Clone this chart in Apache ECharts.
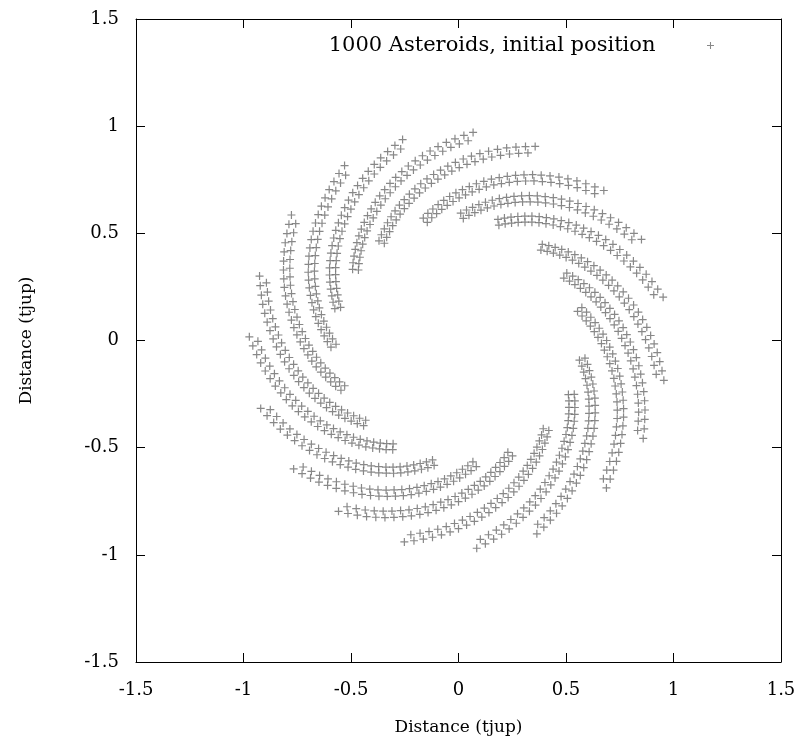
<!DOCTYPE html>
<html>
<head>
<meta charset="utf-8">
<title>Asteroids</title>
<script src="https://cdn.jsdelivr.net/npm/echarts@6/dist/echarts.min.js"></script>
<style>
  html, body { margin: 0; padding: 0; background: #fff; }
  #chart { width: 802px; height: 748px; }
</style>
</head>
<body>
<div id="chart"></div>
<script>
  // radius (tjup) of the crosses along one arm, outer end first (two interleaved strands)
  const armRadius = [0.973, 0.933, 0.957, 0.917, 0.941, 0.902, 0.926, 0.886, 0.910, 0.870,
    0.894, 0.854, 0.878, 0.838, 0.862, 0.823, 0.847, 0.807, 0.831, 0.791, 0.815, 0.775, 0.799,
    0.759, 0.783, 0.744, 0.768, 0.728, 0.752, 0.712, 0.736, 0.696, 0.720, 0.680, 0.704, 0.665,
    0.689, 0.649, 0.673, 0.633, 0.657, 0.617, 0.641, 0.601, 0.625, 0.586, 0.610, 0.570, 0.594]

  // polar angle (degrees) of each cross, one list per spiral arm
  const arm01 = [86, 87.25, 88.5, 89.75, 91, 92.25, 93.5, 94.75, 96, 97.25, 98.5, 99.75, 101, 102.25, 103.5, 104.75, 106, 107.25, 108.5, 109.75, 111, 112.25, 113.5, 114.75, 116, 117.25, 118.5, 119.75, 121, 122.25, 123.5, 124.75, 126, 127.25, 128.5, 129.75, 131, 132.25, 133.5, 134.75, 136, 137.25, 138.5, 139.75, 141, 142.25, 143.5, 144.75, 146]
  const arm02 = [68.5, 69.75, 71, 72.25, 73.5, 74.75, 76, 77.25, 78.5, 79.75, 81, 82.25, 83.5, 84.75, 86, 87.25, 88.5, 89.75, 91, 92.25, 93.5, 94.75, 96, 97.25, 98.5, 99.75, 101, 102.25, 103.5, 104.75, 106, 107.25, 108.5, 109.75, 111, 112.25, 113.5, 114.75, 116, 117.25, 118.5, 119.75, 121, 122.25, 123.5, 124.75, 126, 127.25, 128.5]
  const arm03 = [46, 47.25, 48.5, 49.75, 51, 52.25, 53.5, 54.75, 56, 57.25, 58.5, 59.75, 61, 62.25, 63.5, 64.75, 66, 67.25, 68.5, 69.75, 71, 72.25, 73.5, 74.75, 76, 77.25, 78.5, 79.75, 81, 82.25, 83.5, 84.75, 86, 87.25, 88.5, 89.75, 91, 92.25, 93.5, 94.75, 96, 97.25, 98.5, 99.75, 101, 102.25, 103.5, 104.75, 106]
  const arm04 = [29, 30.25, 31.5, 32.75, 34, 35.25, 36.5, 37.75, 39, 40.25, 41.5, 42.75, 44, 45.25, 46.5, 47.75, 49, 50.25, 51.5, 52.75, 54, 55.25, 56.5, 57.75, 59, 60.25, 61.5, 62.75, 64, 65.25, 66.5, 67.75, 69, 70.25, 71.5, 72.75, 74, 75.25, 76.5, 77.75, 79, 80.25, 81.5, 82.75, 84, 85.25, 86.5, 87.75, 89]
  const arm05 = [12, 13.25, 14.5, 15.75, 17, 18.25, 19.5, 20.75, 22, 23.25, 24.5, 25.75, 27, 28.25, 29.5, 30.75, 32, 33.25, 34.5, 35.75, 37, 38.25, 39.5, 40.75, 42, 43.25, 44.5, 45.75, 47, 48.25, 49.5, 50.75, 52, 53.25, 54.5, 55.75, 57, 58.25, 59.5, 60.75, 62, 63.25, 64.5, 65.75, 67, 68.25, 69.5, 70.75, 72]
  const arm06 = [-11, -9.75, -8.5, -7.25, -6, -4.75, -3.5, -2.25, -1, 0.25, 1.5, 2.75, 4, 5.25, 6.5, 7.75, 9, 10.25, 11.5, 12.75, 14, 15.25, 16.5, 17.75, 19, 20.25, 21.5, 22.75, 24, 25.25, 26.5, 27.75, 29, 30.25, 31.5, 32.75, 34, 35.25, 36.5, 37.75, 39, 40.25, 41.5, 42.75, 44, 45.25, 46.5, 47.75, 49]
  const arm07 = [-28, -26.75, -25.5, -24.25, -23, -21.75, -20.5, -19.25, -18, -16.75, -15.5, -14.25, -13, -11.75, -10.5, -9.25, -8, -6.75, -5.5, -4.25, -3, -1.75, -0.5, 0.75, 2, 3.25, 4.5, 5.75, 7, 8.25, 9.5, 10.75, 12, 13.25, 14.5, 15.75, 17, 18.25, 19.5, 20.75, 22, 23.25, 24.5, 25.75, 27, 28.25, 29.5, 30.75, 32]
  const arm08 = [-45, -43.75, -42.5, -41.25, -40, -38.75, -37.5, -36.25, -35, -33.75, -32.5, -31.25, -30, -28.75, -27.5, -26.25, -25, -23.75, -22.5, -21.25, -20, -18.75, -17.5, -16.25, -15, -13.75, -12.5, -11.25, -10, -8.75, -7.5, -6.25, -5, -3.75, -2.5, -1.25, 0, 1.25, 2.5, 3.75, 5, 6.25, 7.5, 8.75, 10, 11.25, 12.5, 13.75, 15]
  const arm09 = [-68, -66.75, -65.5, -64.25, -63, -61.75, -60.5, -59.25, -58, -56.75, -55.5, -54.25, -53, -51.75, -50.5, -49.25, -48, -46.75, -45.5, -44.25, -43, -41.75, -40.5, -39.25, -38, -36.75, -35.5, -34.25, -33, -31.75, -30.5, -29.25, -28, -26.75, -25.5, -24.25, -23, -21.75, -20.5, -19.25, -18, -16.75, -15.5, -14.25, -13, -11.75, -10.5, -9.25, -8]
  const arm10 = [-85, -83.75, -82.5, -81.25, -80, -78.75, -77.5, -76.25, -75, -73.75, -72.5, -71.25, -70, -68.75, -67.5, -66.25, -65, -63.75, -62.5, -61.25, -60, -58.75, -57.5, -56.25, -55, -53.75, -52.5, -51.25, -50, -48.75, -47.5, -46.25, -45, -43.75, -42.5, -41.25, -40, -38.75, -37.5, -36.25, -35, -33.75, -32.5, -31.25, -30, -28.75, -27.5, -26.25, -25]
  const arm11 = [-105, -103.75, -102.5, -101.25, -100, -98.75, -97.5, -96.25, -95, -93.75, -92.5, -91.25, -90, -88.75, -87.5, -86.25, -85, -83.75, -82.5, -81.25, -80, -78.75, -77.5, -76.25, -75, -73.75, -72.5, -71.25, -70, -68.75, -67.5, -66.25, -65, -63.75, -62.5, -61.25, -60, -58.75, -57.5, -56.25, -55, -53.75, -52.5, -51.25, -50, -48.75, -47.5, -46.25, -45]
  const arm12 = [-125, -123.75, -122.5, -121.25, -120, -118.75, -117.5, -116.25, -115, -113.75, -112.5, -111.25, -110, -108.75, -107.5, -106.25, -105, -103.75, -102.5, -101.25, -100, -98.75, -97.5, -96.25, -95, -93.75, -92.5, -91.25, -90, -88.75, -87.5, -86.25, -85, -83.75, -82.5, -81.25, -80, -78.75, -77.5, -76.25, -75, -73.75, -72.5, -71.25, -70, -68.75, -67.5, -66.25, -65]
  const arm13 = [-142, -140.75, -139.5, -138.25, -137, -135.75, -134.5, -133.25, -132, -130.75, -129.5, -128.25, -127, -125.75, -124.5, -123.25, -122, -120.75, -119.5, -118.25, -117, -115.75, -114.5, -113.25, -112, -110.75, -109.5, -108.25, -107, -105.75, -104.5, -103.25, -102, -100.75, -99.5, -98.25, -97, -95.75, -94.5, -93.25, -92, -90.75, -89.5, -88.25, -87, -85.75, -84.5, -83.25, -82]
  const arm14 = [-161, -159.75, -158.5, -157.25, -156, -154.75, -153.5, -152.25, -151, -149.75, -148.5, -147.25, -146, -144.75, -143.5, -142.25, -141, -139.75, -138.5, -137.25, -136, -134.75, -133.5, -132.25, -131, -129.75, -128.5, -127.25, -126, -124.75, -123.5, -122.25, -121, -119.75, -118.5, -117.25, -116, -114.75, -113.5, -112.25, -111, -109.75, -108.5, -107.25, -106, -104.75, -103.5, -102.25, -101]
  const arm15 = [179, 180.25, 181.5, 182.75, 184, 185.25, 186.5, 187.75, 189, 190.25, 191.5, 192.75, 194, 195.25, 196.5, 197.75, 199, 200.25, 201.5, 202.75, 204, 205.25, 206.5, 207.75, 209, 210.25, 211.5, 212.75, 214, 215.25, 216.5, 217.75, 219, 220.25, 221.5, 222.75, 224, 225.25, 226.5, 227.75, 229, 230.25, 231.5, 232.75, 234, 235.25, 236.5, 237.75, 239]
  const arm16 = [162, 163.25, 164.5, 165.75, 167, 168.25, 169.5, 170.75, 172, 173.25, 174.5, 175.75, 177, 178.25, 179.5, 180.75, 182, 183.25, 184.5, 185.75, 187, 188.25, 189.5, 190.75, 192, 193.25, 194.5, 195.75, 197, 198.25, 199.5, 200.75, 202, 203.25, 204.5, 205.75, 207, 208.25, 209.5, 210.75, 212, 213.25, 214.5, 215.75, 217, 218.25, 219.5, 220.75, 222]
  const arm17 = [143, 144.25, 145.5, 146.75, 148, 149.25, 150.5, 151.75, 153, 154.25, 155.5, 156.75, 158, 159.25, 160.5, 161.75, 163, 164.25, 165.5, 166.75, 168, 169.25, 170.5, 171.75, 173, 174.25, 175.5, 176.75, 178, 179.25, 180.5, 181.75, 183, 184.25, 185.5, 186.75, 188, 189.25, 190.5, 191.75, 193, 194.25, 195.5, 196.75, 198, 199.25, 200.5, 201.75, 203]
  const arm18 = [123, 124.25, 125.5, 126.75, 128, 129.25, 130.5, 131.75, 133, 134.25, 135.5, 136.75, 138, 139.25, 140.5, 141.75, 143, 144.25, 145.5, 146.75, 148, 149.25, 150.5, 151.75, 153, 154.25, 155.5, 156.75, 158, 159.25, 160.5, 161.75, 163, 164.25, 165.5, 166.75, 168, 169.25, 170.5, 171.75, 173, 174.25, 175.5, 176.75, 178, 179.25, 180.5, 181.75, 183]
  const arm19 = [105.5, 106.75, 108, 109.25, 110.5, 111.75, 113, 114.25, 115.5, 116.75, 118, 119.25, 120.5, 121.75, 123, 124.25, 125.5, 126.75, 128, 129.25, 130.5, 131.75, 133, 134.25, 135.5, 136.75, 138, 139.25, 140.5, 141.75, 143, 144.25, 145.5, 146.75, 148, 149.25, 150.5, 151.75, 153, 154.25, 155.5, 156.75, 158, 159.25, 160.5, 161.75, 163, 164.25, 165.5]

  const arms = [arm01, arm02, arm03, arm04, arm05, arm06, arm07, arm08, arm09, arm10,
    arm11, arm12, arm13, arm14, arm15, arm16, arm17, arm18, arm19]

  const seriesName = '1000 Asteroids, initial position'
  const axisTitle = 'Distance (tjup)'

  // polar readings -> x/y in tjup
  const points = []
  arms.forEach((angles) => {
    angles.forEach((deg, i) => {
      const t = deg * Math.PI / 180
      points.push([armRadius[i] * Math.cos(t), armRadius[i] * Math.sin(t)])
    })
  })

  const cross = 'path://M0,3.4H8V4.6H0Z M3.4,0H4.6V8H3.4Z'
  const font = 'DejaVu Serif'

  function frameAxis (position, labels) {
    return {
      type: 'value',
      position: position,
      min: -1.5,
      max: 1.5,
      interval: 0.5,
      axisLine: { show: true, onZero: false, lineStyle: { color: '#000', width: 1 } },
      axisTick: { show: true, inside: true, length: 9, lineStyle: { color: '#000', width: 1 } },
      axisLabel: { show: labels, color: '#000', fontFamily: font, fontSize: 18, margin: 17 },
      splitLine: { show: false }
    }
  }

  const xBottom = frameAxis('bottom', true)
  xBottom.name = axisTitle
  xBottom.nameLocation = 'middle'
  xBottom.nameGap = 57
  xBottom.nameTextStyle = { color: '#000', fontFamily: font, fontSize: 17 }
  xBottom.axisLabel.margin = 19

  const yLeft = frameAxis('left', true)
  yLeft.name = axisTitle
  yLeft.nameLocation = 'middle'
  yLeft.nameGap = 101
  yLeft.nameTextStyle = { color: '#000', fontFamily: font, fontSize: 17 }

  const chart = echarts.init(document.getElementById('chart'))
  chart.setOption({
    backgroundColor: '#fff',
    animation: false,
    grid: { left: 136, right: 21, top: 19, bottom: 86 },
    legend: {
      data: [{ name: seriesName, icon: cross }],
      right: 83,
      top: 30,
      align: 'right',
      itemWidth: 100,
      itemHeight: 7,
      textStyle: { color: '#000', fontFamily: font, fontSize: 21 }
    },
    xAxis: [xBottom, frameAxis('top', false)],
    yAxis: [yLeft, frameAxis('right', false)],
    series: [{
      name: seriesName,
      type: 'scatter',
      data: points,
      symbol: cross,
      symbolSize: 8,
      clip: false,
      itemStyle: { color: '#6a6a6a' },
      emphasis: { disabled: true }
    }]
  })
</script>
</body>
</html>
